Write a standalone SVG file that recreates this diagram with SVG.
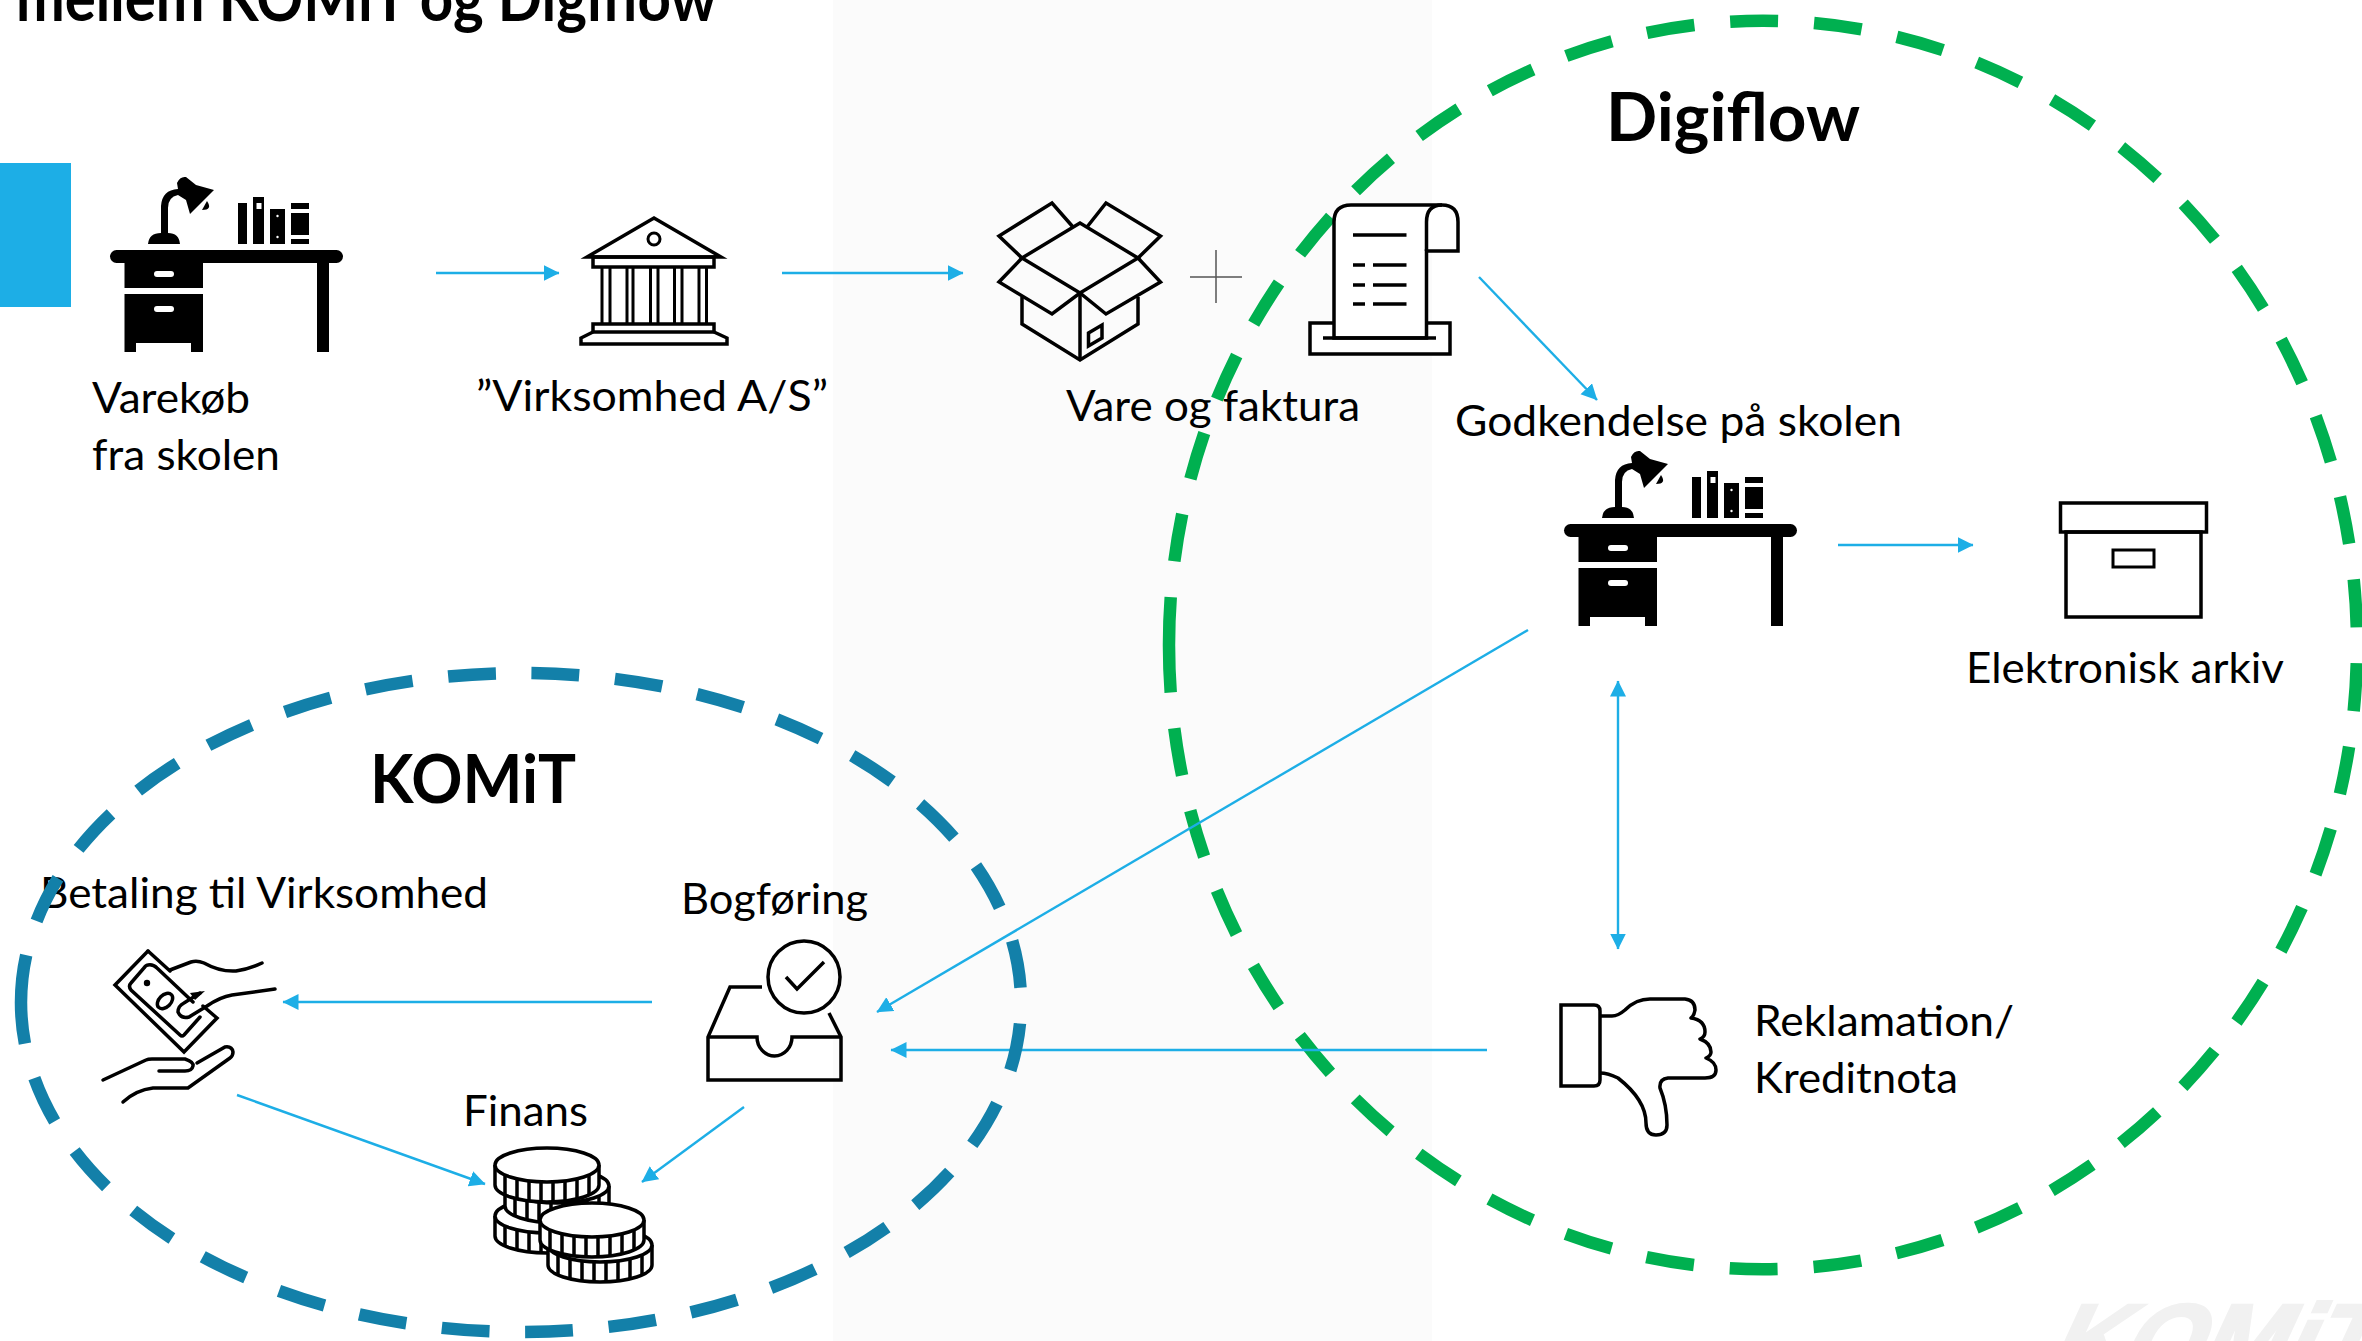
<svg xmlns="http://www.w3.org/2000/svg" xmlns:xlink="http://www.w3.org/1999/xlink" width="2362" height="1341" viewBox="0 0 2362 1341">
<style>
text{font-family:Lato,"Noto Sans",sans-serif;fill:#000;font-size:43px}
.b{font-weight:700}
.ln{fill:none;stroke:#000;stroke-width:3.500;stroke-linejoin:miter}
.w{fill:#fff;stroke:#000;stroke-width:3.500}
.arrow{fill:none;stroke:#1DAEE6;stroke-width:2.400;marker-end:url(#ah)}
.ring{fill:none;stroke-width:12.500}
</style>
<defs>
<marker id="ah" markerUnits="userSpaceOnUse" markerWidth="17" markerHeight="17" refX="15.500" refY="8" orient="auto-start-reverse"><path d="M0,0 L16,8 L0,16 Z" fill="#1DAEE6"/></marker>
<g id="desk">
<rect x="110" y="250" width="233" height="13" rx="6.500"/>
<rect x="124.500" y="258" width="78.500" height="30"/>
<path d="M124.500,294 H203 V352 H191 V343 H136 V352 H124.500 Z"/>
<rect x="317" y="258" width="12" height="94"/>
<rect x="154" y="271" width="20" height="6" rx="3" fill="#fff"/>
<rect x="154" y="306" width="20" height="6" rx="3" fill="#fff"/>
<path d="M148,244 Q149,233 161,233 V206 Q162,190 178,189 L177,183 Q180,176 186,177 L196,185 L214,190 L190,214 L186,200 L178,195 Q168,197 168,208 V233 Q179,233 180,244 Z"/>
<path d="M207,201 Q213,210 202,210 Z"/>
<rect x="238" y="203" width="9" height="41"/>
<path d="M253,197 H264 V244 H253 Z M256.500,203 V209 H261.500 V203 Z" fill-rule="evenodd"/>
<path d="M270,209 H285 V244 H270 Z"/>
<circle cx="277.500" cy="216" r="1.200" fill="#fff"/><circle cx="277.500" cy="237" r="1.200" fill="#fff"/>
<rect x="291" y="203" width="18" height="6"/><rect x="291" y="213" width="18" height="22"/><rect x="291" y="239" width="18" height="5"/>
</g>
<g id="coin">
<path d="M-52,0 V20 A52,17 0 0 0 52,20 V0" fill="#fff" stroke="#000" stroke-width="3.500"/>
<ellipse rx="52" ry="17" fill="#fff" stroke="#000" stroke-width="3.500"/>
<path d="M-42,10 v20 M-30,14 v20 M-18,16 v20 M-6,17 v20 M6,17 v20 M18,16 v20 M30,14 v20 M42,10 v20" stroke="#000" stroke-width="3.500" fill="none"/>
</g>
</defs>
<rect width="2362" height="1341" fill="#fff"/>
<rect id="band" x="833" y="0" width="599" height="1341" fill="#fbfbfb"/>
<g id="watermark"><text transform="translate(2044,1374) skewX(-24.700)" style="font-family:'Liberation Sans',sans-serif;font-size:100px;font-weight:700;fill:#f1f1f1;stroke:#f1f1f1;stroke-width:3">KOMiT</text></g>
<g id="ring-digiflow"><path class="ring" stroke="#00B050" stroke-dasharray="48 36" d="M1169,645 A594,624 0 1 1 2357,645 A594,624 0 1 1 1169,645 Z"/></g>
<g id="title"><text class="b" x="16" y="21" style="font-size:65px" textLength="701" lengthAdjust="spacingAndGlyphs">mellem KOMiT og Digiflow</text></g>
<rect id="accent" x="0" y="163" width="71" height="144" fill="#1DAEE6"/>
<g id="connectors">
<path class="arrow" d="M436,273 H559"/>
<path class="arrow" d="M782,273 H963"/>
<path class="arrow" d="M1479,277 L1597,400"/>
<path class="arrow" d="M1838,545 H1973"/>
<path class="arrow" style="marker-start:url(#ah)" d="M1618,681 V949"/>
<path class="arrow" d="M1528,630 L877,1012"/>
<path class="arrow" d="M1487,1050 H891"/>
<path class="arrow" d="M652,1002 H283"/>
<path class="arrow" d="M237,1095 L485,1184"/>
<path class="arrow" d="M744,1107 L642,1182"/>
</g>
<g id="node-varekob"><use xlink:href="#desk" href="#desk"/>
<text x="92" y="413" textLength="158" lengthAdjust="spacingAndGlyphs">Varekøb</text>
<text x="92" y="470" textLength="188" lengthAdjust="spacingAndGlyphs">fra skolen</text></g>
<g id="node-virksomhed">
<path class="ln" d="M587,257 L654,218 L721,257 Z"/>
<circle cx="654" cy="239" r="6" class="ln" style="stroke-width:3"/>
<rect class="ln" x="593" y="257" width="121" height="10"/>
<path class="ln" style="stroke-width:3" d="M602,267 V324 M610,267 V324 M627,267 V324 M633,267 V324 M650.500,267 V324 M658,267 V324 M674.500,267 V324 M682,267 V324 M699,267 V324 M706.500,267 V324"/>
<rect class="ln" x="593" y="324" width="121" height="8"/>
<path class="ln" d="M593,332 L581,338 V344 H727 V338 L714,332"/>
<text x="476" y="411" textLength="352" lengthAdjust="spacingAndGlyphs">”Virksomhed A/S”</text></g>
<g id="node-vare">
<g class="ln">
<path d="M1080,223 L1022,258 L1080,293 L1138,258 Z"/>
<path d="M1022,258 L999,236 L1052,203 L1073,227"/>
<path d="M1138,258 L1160.500,236 L1106,203 L1087,227"/>
<path d="M1022,258 L999,282 L1052,314 L1080,293 L1106,314 L1160.500,282 L1138,258"/>
<path d="M1022,297 V324 L1080,360 L1138,324 V297"/>
<path d="M1080,293 V360"/>
<path d="M1088.500,333 L1102,325 V338 L1088.500,346 Z"/>
</g>
<path d="M1216,250 V303 M1190,277 H1242" stroke="#555" stroke-width="1.500" fill="none"/>
<text x="1066" y="421" textLength="294" lengthAdjust="spacingAndGlyphs">Vare og faktura</text></g>
<g id="node-faktura">
<rect class="w" x="1310" y="323" width="140" height="31"/>
<path class="w" d="M1334,338 V222 Q1334,205 1351,205 H1442 Q1458,205 1458,222 V251 H1426.500 V338 Z"/>
<path class="ln" d="M1426.500,251 V222 Q1426.500,205 1442,205"/>
<path class="ln" d="M1323,338 H1436"/>
<path class="ln" d="M1353,235 H1406.500 M1353,265 H1365 M1373,265 H1406.500 M1353,285 H1365 M1373,285 H1406.500 M1353,304 H1365 M1373,304 H1406.500"/>
</g>
<g id="node-godkendelse"><use xlink:href="#desk" href="#desk" transform="translate(1454,274)"/>
<text x="1455" y="436" textLength="447" lengthAdjust="spacingAndGlyphs">Godkendelse på skolen</text></g>
<g id="node-arkiv">
<rect class="ln" x="2060.500" y="503" width="146" height="29"/>
<rect class="ln" x="2066" y="532" width="135" height="85"/>
<rect class="ln" x="2113" y="550" width="41" height="17" style="stroke-width:3"/>
<text x="1966" y="683" textLength="318" lengthAdjust="spacingAndGlyphs">Elektronisk arkiv</text></g>
<g id="label-digiflow"><text class="b" x="1606" y="141" style="font-size:67px" textLength="254" lengthAdjust="spacingAndGlyphs">Digiflow</text></g>
<g id="label-komit"><text class="b" x="370" y="803" style="font-size:67px" textLength="206" lengthAdjust="spacingAndGlyphs">KOMiT</text></g>
<g id="node-betaling">
<text x="40" y="908" textLength="448" lengthAdjust="spacingAndGlyphs">Betaling til Virksomhed</text>
<g class="ln" style="stroke-linecap:round">
<path d="M148,951 L115,985 L184,1052 L217,1018 L203,1006"/>
<path d="M170,971 L148,951"/>
<path d="M148,965 Q153,964 157,968 L193,1002 M200,1017 L184,1035 Q182,1037 180,1035 L131,990 Q128,986 131,983 L144,968 Q146,965 148,965"/>
<ellipse cx="165" cy="1001" rx="9" ry="6" transform="rotate(-45 165 1001)"/>
<path d="M170,970 L191,962 Q197,960 204,963 Q220,972 236,971 Q249,969 262,963"/>
<path d="M275,989 L232,995 Q220,997 207,1006 L189,1017 Q181,1019 178,1012 Q178,1006 184,1003 L200,993"/>
<path d="M103,1080 L146,1060 Q148,1059 152,1059 H185 Q194,1062 193,1066 Q192,1071 185,1071 H159"/>
<path d="M197,1063 L225,1047 Q232,1046 233,1052 Q233,1056 230,1058 L188,1088 H153 Q136,1090 123,1102"/>
</g>
<path d="M190,993 L205,991 L195,1000 Z"/>
<circle cx="147" cy="983" r="3.200"/>
</g>
<g id="node-bogforing">
<text x="681" y="914" textLength="187" lengthAdjust="spacingAndGlyphs">Bogføring</text>
<circle class="ln" cx="804" cy="977" r="36"/>
<path class="ln" d="M786,977 L797,989 L824,962"/>
<path class="ln" d="M762,987 H730 L708,1037 V1080 H841 V1037 L829,1013"/>
<path class="ln" d="M708,1037 H757 A17.500,19 0 0 0 792,1037 H841"/>
</g>
<g id="node-finans">
<text x="463" y="1126" textLength="125" lengthAdjust="spacingAndGlyphs">Finans</text>
<use href="#coin" xlink:href="#coin" x="547" y="1216"/>
<use href="#coin" xlink:href="#coin" x="557" y="1186"/>
<use href="#coin" xlink:href="#coin" x="547" y="1165"/>
<use href="#coin" xlink:href="#coin" x="600" y="1245"/>
<use href="#coin" xlink:href="#coin" x="592" y="1220"/>
</g>
<g id="node-reklamation">
<path class="ln" d="M1561,1005 H1594 Q1600,1005 1600,1011 V1080 Q1600,1086 1594,1086 H1561 Z"/>
<path class="ln" style="stroke-linejoin:round" d="M1600,1016 H1612 Q1618,1016 1625,1010 Q1636,999 1650,999 H1685 Q1695,1000 1695,1010 Q1694,1016 1691,1018 Q1705,1020 1705,1032 Q1705,1037 1700,1039 Q1711,1043 1711,1052 Q1711,1056 1706,1058 Q1716,1062 1716,1070 Q1716,1078 1705,1078 H1668 Q1659,1079 1660,1088 Q1667,1105 1667,1125 Q1667,1135 1656,1135 Q1646,1135 1646,1123 Q1646,1100 1618,1078 Q1608,1073 1600,1073"/>
<text x="1754" y="1036" textLength="260" lengthAdjust="spacingAndGlyphs">Reklamation/</text>
<text x="1754" y="1093" textLength="204" lengthAdjust="spacingAndGlyphs">Kreditnota</text>
</g>
<g id="ring-komit"><path class="ring" stroke="#1380A9" stroke-dasharray="47.800 35.800" d="M21,1002.500 A500,329.500 0 1 1 1021,1002.500 A500,329.500 0 1 1 21,1002.500 Z"/></g>
</svg>
